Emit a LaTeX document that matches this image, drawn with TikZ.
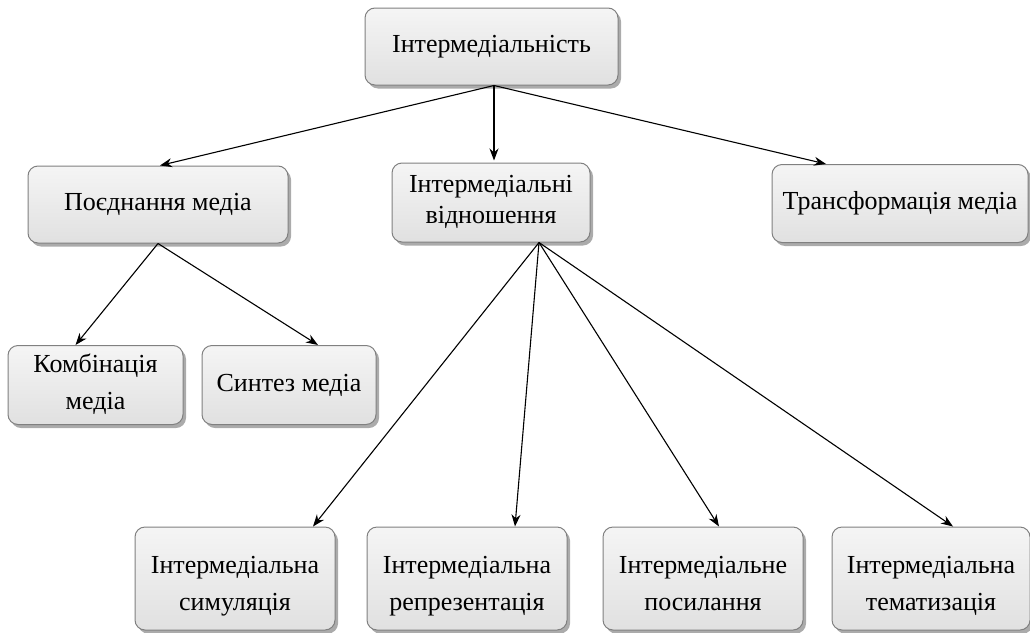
\documentclass[tikz,border=0pt]{standalone}
\usepackage{fontspec}
\setmainfont{Liberation Serif}
\usetikzlibrary{arrows.meta,shadows}
\newcommand{\dpstrut}{\rule[-7pt]{0pt}{7pt}}
\newcommand{\topstrut}{\rule{0pt}{33pt}}
\begin{document}
\begin{tikzpicture}[x=1pt,y=-1pt,
  box/.style={draw=black!50, line width=1pt, rounded corners=10pt,
    top color=black!4, bottom color=black!12, align=center,
    font=\fontsize{26}{37}\selectfont, inner sep=0pt,
    drop shadow={shadow xshift=3pt,shadow yshift=-3.5pt,fill=black!55,opacity=0.6}},
  arr/.style={-{Stealth[length=12pt,width=9pt]}, line width=1.1pt}]
\useasboundingbox (0,0) rectangle (1030,632);
\node[box, minimum width=253pt, minimum height=77pt] (top) at (491.5,46.5) {Інтермедіальність};
\node[box, minimum width=260pt, minimum height=77pt] (poed) at (158,204.5) {Поєднання медіа};
\node[box, minimum width=198pt, minimum height=79pt, font=\fontsize{26}{31}\selectfont] (vidn) at (491,202.5) {Інтермедіальні\\відношення\dpstrut};
\node[box, minimum width=256pt, minimum height=78pt] (trans) at (900,203.5) {Трансформація медіа};
\node[box, minimum width=175pt, minimum height=79pt] (komb) at (95.5,385) {Комбінація\\медіа\dpstrut};
\node[box, minimum width=174pt, minimum height=79pt] (synt) at (289,385) {Синтез медіа};
\node[box, minimum width=200pt, minimum height=103pt] (sym) at (235,578.5) {\topstrut Інтермедіальна\\симуляція\dpstrut};
\node[box, minimum width=200pt, minimum height=103pt] (repr) at (467,578.5) {\topstrut Інтермедіальна\\репрезентація\dpstrut};
\node[box, minimum width=200pt, minimum height=103pt] (posyl) at (703,578.5) {\topstrut Інтермедіальне\\посилання\dpstrut};
\node[box, minimum width=198pt, minimum height=103pt] (temat) at (931,578.5) {\topstrut Інтермедіальна\\тематизація\dpstrut};

\draw[arr] ([xshift=2.5pt]top.south) -- ([xshift=2pt]poed.north);
\draw[arr] ([xshift=2.5pt]top.south) -- ([xshift=3pt,yshift=2pt]vidn.north);
\draw[arr] ([xshift=2.5pt]top.south) -- ([xshift=-74pt]trans.north);
\draw[arr] (poed.south) -- ([xshift=-20pt]komb.north);
\draw[arr] (poed.south) -- ([xshift=29pt]synt.north);
\draw[arr] ([xshift=48pt]vidn.south) -- ([xshift=78pt]sym.north);
\draw[arr] ([xshift=48pt]vidn.south) -- ([xshift=48pt]repr.north);
\draw[arr] ([xshift=48pt]vidn.south) -- ([xshift=16pt]posyl.north);
\draw[arr] ([xshift=48pt]vidn.south) -- ([xshift=22pt]temat.north);
\end{tikzpicture}
\end{document}
